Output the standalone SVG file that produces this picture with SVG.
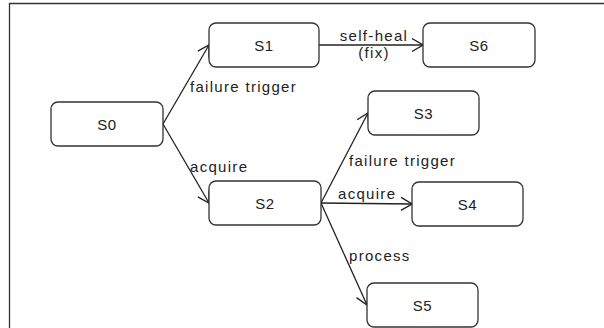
<svg xmlns="http://www.w3.org/2000/svg" width="604" height="328" viewBox="0 0 604 328">
<defs>
<marker id="arr" markerUnits="userSpaceOnUse" markerWidth="13" markerHeight="16" viewBox="0 0 13 16" refX="12" refY="8" orient="auto">
<path d="M1,1.5 L12,8 L1,14.5" fill="none" stroke="#222" stroke-width="1.4"/>
</marker>
</defs>
<style>
.node rect{fill:#fff;stroke:#333;stroke-width:1.3}
.node text{font-family:"Liberation Sans",Arial,sans-serif;font-size:15px;fill:#222;text-anchor:middle;letter-spacing:0.5px}
.edges line{stroke:#222;stroke-width:1.3;marker-end:url(#arr)}
.lbl{font-family:"Liberation Sans",Arial,sans-serif;font-size:15px;fill:#222;letter-spacing:1.3px}
</style>
<rect width="604" height="328" fill="#fff"/>
<path d="M9.5,328 V3.5 H604" fill="none" stroke="#333" stroke-width="1.3"/>
<g class="edges">
<line x1="163" y1="124" x2="209" y2="45"/>
<line x1="163" y1="124" x2="209" y2="203"/>
<line x1="319" y1="45" x2="423" y2="45"/>
<line x1="321" y1="203" x2="368" y2="113"/>
<line x1="321" y1="203" x2="412" y2="204"/>
<line x1="321" y1="203" x2="367" y2="305"/>
<text class="lbl" x="190" y="92">failure trigger</text>
<text class="lbl" x="190" y="172">acquire</text>
<text class="lbl" x="374" y="41" text-anchor="middle">self-heal</text>
<text class="lbl" x="374" y="58" text-anchor="middle">(fix)</text>
<text class="lbl" x="349" y="166">failure trigger</text>
<text class="lbl" x="338" y="199">acquire</text>
<text class="lbl" x="349" y="261">process</text>
</g>
<g id="S0" class="node"><rect x="51" y="102" width="112" height="44" rx="7"/><text x="107" y="130">S0</text></g>
<g id="S1" class="node"><rect x="209" y="23" width="110" height="44" rx="7"/><text x="264" y="51">S1</text></g>
<g id="S6" class="node"><rect x="423" y="23" width="112" height="44" rx="7"/><text x="479" y="51">S6</text></g>
<g id="S3" class="node"><rect x="368" y="91" width="111" height="44" rx="7"/><text x="423.5" y="119">S3</text></g>
<g id="S2" class="node"><rect x="209" y="181" width="112" height="44" rx="7"/><text x="265" y="209">S2</text></g>
<g id="S4" class="node"><rect x="412" y="182" width="111" height="44" rx="7"/><text x="467.5" y="210">S4</text></g>
<g id="S5" class="node"><rect x="367" y="283" width="111" height="44" rx="7"/><text x="422.5" y="311">S5</text></g>
</svg>
